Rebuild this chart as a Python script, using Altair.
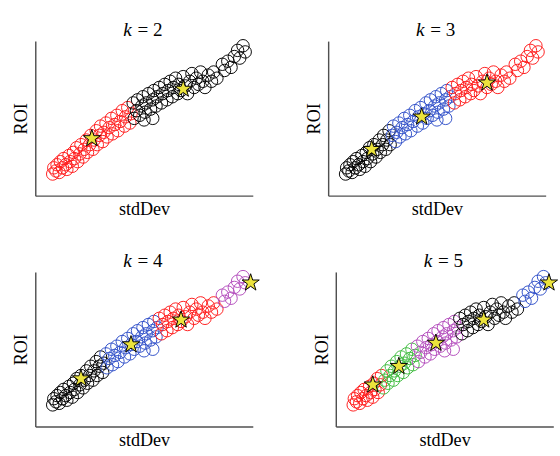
import altair as alt
import pandas as pd

# Point cloud: standard deviation (x) against ROI (y), both rescaled to 0..1
std_dev = [
    0.08, 0.085, 0.095, 0.10, 0.11, 0.115, 0.125, 0.13, 0.14, 0.145, 0.155, 0.16,
    0.17, 0.175, 0.18, 0.19, 0.195, 0.205, 0.21, 0.22, 0.225, 0.235, 0.24, 0.25,
    0.255, 0.265, 0.27, 0.28, 0.285, 0.295, 0.30, 0.31, 0.315, 0.325, 0.33, 0.34,
    0.35, 0.355, 0.365, 0.375, 0.38, 0.39, 0.40, 0.41, 0.415, 0.425, 0.435, 0.44,
    0.45, 0.455, 0.465, 0.47, 0.48, 0.49, 0.495, 0.50, 0.505, 0.51, 0.52, 0.53,
    0.54, 0.54, 0.545, 0.555, 0.56, 0.57, 0.58, 0.585, 0.595, 0.605, 0.61, 0.62,
    0.63, 0.635, 0.645, 0.655, 0.66, 0.67, 0.68, 0.69, 0.70, 0.71, 0.72, 0.73,
    0.74, 0.75, 0.76, 0.77, 0.78, 0.795, 0.81, 0.82, 0.835,
    0.86, 0.87, 0.885, 0.90, 0.915, 0.93, 0.94, 0.955, 0.965,
]
roi = [
    0.14, 0.18, 0.16, 0.20, 0.15, 0.22, 0.18, 0.24, 0.20, 0.17, 0.26, 0.22,
    0.19, 0.28, 0.24, 0.31, 0.22, 0.27, 0.33, 0.25, 0.30, 0.36, 0.28, 0.33,
    0.39, 0.30, 0.36, 0.42, 0.33, 0.39, 0.45, 0.35, 0.41, 0.47, 0.38, 0.44,
    0.50, 0.40, 0.46, 0.52, 0.42, 0.48, 0.55, 0.45, 0.51, 0.57, 0.47, 0.53,
    0.60, 0.50, 0.55, 0.62, 0.52, 0.58, 0.64, 0.49, 0.54, 0.60, 0.66, 0.56,
    0.62, 0.50, 0.68, 0.58, 0.64, 0.70, 0.60, 0.66, 0.72, 0.62, 0.68, 0.74,
    0.64, 0.70, 0.76, 0.66, 0.72, 0.68, 0.77, 0.71, 0.66, 0.74, 0.79, 0.70,
    0.76, 0.72, 0.80, 0.74, 0.70, 0.78, 0.74, 0.80, 0.76,
    0.85, 0.81, 0.87, 0.83, 0.90, 0.94, 0.89, 0.97, 0.93,
]

# Cluster boundaries along stdDev for each k, and the colour of each cluster (left to right)
boundaries = {
    2: [0.45],
    3: [0.29, 0.57],
    4: [0.32, 0.57, 0.85],
    5: [0.22, 0.37, 0.57, 0.85],
}
RED, BLACK, BLUE, PURPLE, GREEN = "#ff1a1a", "#000000", "#2f4fc8", "#b24cbc", "#3dbb3d"
cluster_colors = {
    2: [RED, BLACK],
    3: [BLACK, BLUE, RED],
    4: [BLACK, BLUE, RED, PURPLE],
    5: [RED, GREEN, PURPLE, BLACK, BLUE],
}
# Cluster centroids (stars)
centroid_x = {
    2: [0.26, 0.68],
    3: [0.20, 0.43, 0.73],
    4: [0.21, 0.44, 0.67, 0.99],
    5: [0.17, 0.29, 0.46, 0.68, 0.98],
}
centroid_y = {
    2: [0.37, 0.69],
    3: [0.30, 0.51, 0.73],
    4: [0.31, 0.53, 0.69, 0.93],
    5: [0.27, 0.39, 0.54, 0.69, 0.93],
}

W, H = 228, 162
SERIF = "Liberation Serif"
# Five-pointed star as a custom symbol path in the unit [-1, 1] box
STAR = ("M0,-1L0.2245,-0.309L0.951,-0.309L0.363,0.118L0.588,0.809L0,0.382"
        "L-0.588,0.809L-0.363,0.118L-0.951,-0.309L-0.2245,-0.309Z")


def cluster_of(x, cuts):
    return sum(1 for c in cuts if x >= c)


def axis(title):
    return alt.Axis(
        title=title, labels=False, ticks=False, grid=False,
        domainColor="#505050", domainWidth=1.5,
        titleFont=SERIF, titleFontSize=19, titleFontWeight="normal",
        titleColor="black", titlePadding=5,
    )


def panel(k):
    pts = pd.DataFrame({"stdDev": std_dev, "ROI": roi})
    pts["colour"] = [cluster_colors[k][cluster_of(x, boundaries[k])] for x in std_dev]
    cents = pd.DataFrame({"stdDev": centroid_x[k], "ROI": centroid_y[k]})

    scale = alt.Scale(domain=[0, 1], nice=False, zero=False)
    circles = alt.Chart(pts).mark_point(size=170, strokeWidth=1, opacity=1).encode(
        x=alt.X("stdDev:Q", scale=scale, axis=axis("stdDev")),
        y=alt.Y("ROI:Q", scale=scale, axis=axis("ROI")),
        color=alt.Color("colour:N", scale=None),
    )
    stars = alt.Chart(cents).mark_point(
        shape=STAR, filled=True, size=360, fill="#ece33c",
        stroke="black", strokeWidth=1, opacity=1,
    ).encode(x="stdDev:Q", y="ROI:Q")

    head = pd.DataFrame({"k": [k]})
    k_label = alt.Chart(head).mark_text(
        text="k", font=SERIF, fontStyle="italic", fontSize=20,
        align="right", baseline="alphabetic", color="black",
    ).encode(x=alt.value(W / 2 - 13), y=alt.value(-5))
    eq_label = alt.Chart(head).mark_text(
        text=f"= {k}", font=SERIF, fontSize=20,
        align="left", baseline="alphabetic", color="black",
    ).encode(x=alt.value(W / 2 - 7), y=alt.value(-5))

    return alt.layer(circles, stars, k_label, eq_label).properties(width=W, height=H)


top = alt.hconcat(panel(2), panel(3), spacing=54)
bottom = alt.hconcat(panel(4), panel(5), spacing=54)

chart = (
    alt.vconcat(top, bottom, spacing=35)
    .properties(padding={"left": 13, "top": 11, "right": 0, "bottom": 0})
    .configure_view(strokeWidth=0)
)

chart.save("out.html", embed_options={"renderer": "svg", "actions": False})
